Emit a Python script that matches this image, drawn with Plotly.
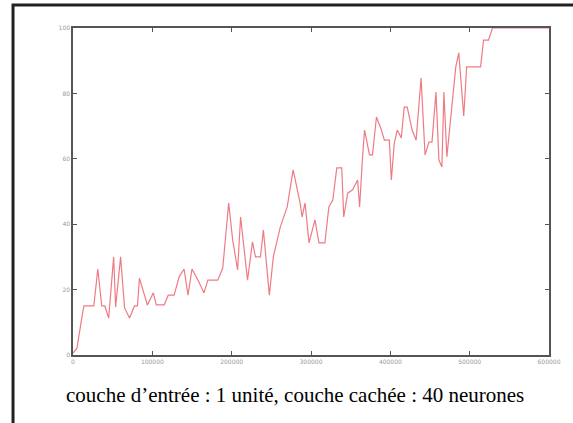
import plotly.graph_objects as go

# training curve (iterations, % correct)
iterations = [
    0, 5000, 11250, 13750, 26250, 31250, 36250, 40000, 45000, 51250,
    53750, 60000, 65000, 71250, 77500, 81250, 83750, 88750, 93750, 101250,
    105000, 115000, 120000, 127500, 133750, 140000, 145000, 150000, 157500, 165000,
    170000, 182500, 188750, 196250, 201250, 207500, 211250, 220000, 226250, 230000,
    236250, 240000, 247500, 252500, 261250, 270000, 277500, 286250, 288750, 292500,
    297500, 305000, 310000, 317500, 322500, 327500, 332500, 338750, 341250, 346250,
    352500, 358750, 361250, 365000, 367500, 373750, 377500, 382500, 388750, 392500,
    398750, 401250, 405000, 408750, 413750, 417500, 421250, 427500, 432500, 438750,
    443750, 448750, 452500, 457500, 461250, 465000, 467500, 471250, 476250, 482500,
    486250, 492500, 496250, 513750, 517500, 523750, 528750, 600000,
]
score = [
    0.6, 2.1, 11.6, 15.0, 15.0, 26.3, 15.0, 15.0, 11.3, 30.0,
    14.7, 30.0, 14.4, 11.3, 15.0, 15.0, 23.5, 19.3, 15.3, 19.0,
    15.3, 15.3, 18.3, 18.3, 23.9, 26.3, 18.3, 26.3, 22.9, 19.0,
    22.9, 22.9, 26.6, 46.5, 35.2, 26.0, 42.2, 22.9, 34.6, 30.0,
    30.0, 38.2, 18.3, 30.0, 39.1, 45.3, 56.6, 46.5, 42.2, 46.5,
    34.3, 41.3, 34.3, 34.3, 45.3, 47.4, 57.2, 57.2, 42.2, 49.5,
    50.5, 53.5, 45.3, 60.6, 68.8, 61.2, 61.2, 72.8, 68.8, 65.7,
    65.7, 53.5, 64.8, 68.8, 66.4, 75.8, 75.8, 68.8, 65.7, 84.7,
    61.2, 65.1, 65.1, 80.4, 59.6, 57.5, 80.4, 60.6, 71.9, 88.1,
    92.4, 73.1, 88.1, 88.1, 96.3, 96.3, 100, 100,
]

x_ticks = [0, 100000, 200000, 300000, 400000, 500000, 600000]
y_ticks = [0, 20, 40, 60, 80, 100]
caption = "couche d\u2019entrée : 1 unité, couche cachée : 40 neurones"

fig = go.Figure()
fig.add_trace(go.Scatter(
    x=iterations, y=score, mode="lines",
    line=dict(color="rgba(235,100,110,0.85)", width=1.2),
    hoverinfo="skip",
))

axis_style = dict(
    showline=True, linecolor="#555555", linewidth=1.5, mirror="allticks",
    ticks="inside", ticklen=4, tickcolor="#555555",
    showgrid=False, zeroline=False,
    tickfont=dict(family="DejaVu Sans", size=6, color="#999999"),
)
fig.update_xaxes(range=[0, 600000], tickvals=x_ticks,
                 ticktext=[str(v) for v in x_ticks], **axis_style)
fig.update_yaxes(range=[0, 100], tickvals=y_ticks,
                 ticktext=[str(v) for v in y_ticks], **axis_style)

# outer frame around the whole figure (right/bottom edges run off the page)
fig.add_shape(type="rect", xref="paper", yref="paper",
              x0=-0.126, x1=1.15, y0=-0.25, y1=1.07,
              line=dict(color="#222222", width=3))

fig.add_annotation(text=caption, xref="paper", yref="paper",
                   x=0.466, y=-0.165, showarrow=False,
                   font=dict(family="Liberation Serif", size=21, color="black"))

fig.update_layout(
    width=573, height=423,
    margin=dict(l=73, r=13, t=28, b=68),
    paper_bgcolor="white", plot_bgcolor="white",
    showlegend=False,
)

fig.write_html("out.html", config={"displayModeBar": False},
               post_script="document.body.style.margin='0';")
